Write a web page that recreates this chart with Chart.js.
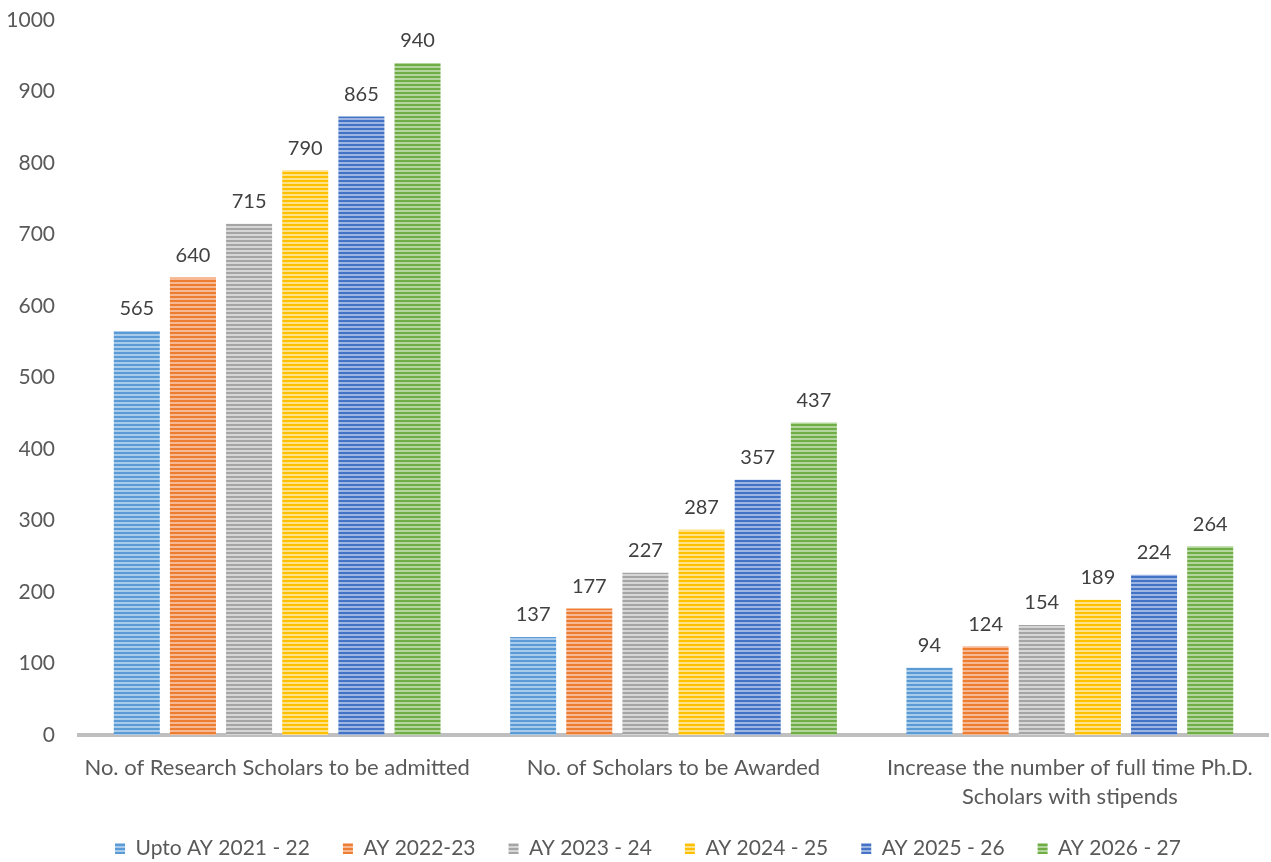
<!DOCTYPE html>
<html>
<head>
<meta charset="utf-8">
<script src="https://cdn.jsdelivr.net/npm/chart.js@4"></script>
<style>
html,body{margin:0;padding:0;background:#fff;}
#wrap{width:1271px;height:862px;position:relative;}
</style>
</head>
<body>
<div id="wrap"><canvas id="c" width="1271" height="862"></canvas></div>
<script>
const categories = [
  'No. of Research Scholars to be admitted',
  'No. of Scholars to be Awarded',
  ['Increase the number of full time Ph.D.', 'Scholars with stipends']
];
const seriesNames = ['Upto AY 2021 - 22', 'AY 2022-23', 'AY 2023 - 24', 'AY 2024 - 25', 'AY 2025 - 26', 'AY 2026 - 27'];
const s2021 = [565, 137, 94];
const s2022 = [640, 177, 124];
const s2023 = [715, 227, 154];
const s2024 = [790, 287, 189];
const s2025 = [865, 357, 224];
const s2026 = [940, 437, 264];
const yTicks = [0, 100, 200, 300, 400, 500, 600, 700, 800, 900, 1000];

const baseColors = ['#5b9bd5', '#ed7d31', '#a5a5a5', '#ffc000', '#4472c4', '#70ad47'];
const lightColors = ['#a9cbeb', '#f6b994', '#d6d6d6', '#ffe18a', '#9db5e3', '#b3d69c'];

function stripe(base, light) {
  const c = document.createElement('canvas');
  c.width = 4; c.height = 4;
  const x = c.getContext('2d');
  x.fillStyle = base; x.fillRect(0, 0, 4, 4);
  x.fillStyle = light; x.fillRect(0, 2, 4, 2);
  return x.createPattern(c, 'repeat');
}

const allSeries = [s2021, s2022, s2023, s2024, s2025, s2026];
const FONT = 'Lato, "Open Sans", sans-serif';

const labelPlugin = {
  id: 'vals',
  afterDatasetsDraw(chart) {
    const ctx = chart.ctx;
    ctx.save();
    ctx.font = '20px ' + FONT;
    ctx.fillStyle = '#404040';
    ctx.textAlign = 'center';
    ctx.textBaseline = 'middle';
    chart.data.datasets.forEach((ds, i) => {
      chart.getDatasetMeta(i).data.forEach((bar, j) => {
        ctx.fillText(String(ds.data[j]), bar.x, bar.y - 22);
      });
    });
    ctx.restore();
  }
};

const legendShift = {
  id: 'legendShift',
  afterLayout(chart) {
    const lg = chart.legend;
    if (!lg) return;
    lg.top -= 6; lg.bottom -= 6;
    lg.left += 11; lg.right += 11;
  }
};

new Chart(document.getElementById('c'), {
  type: 'bar',
  data: {
    labels: categories,
    datasets: allSeries.map((d, i) => ({
      label: seriesNames[i],
      data: d,
      backgroundColor: stripe(baseColors[i], lightColors[i]),
      borderWidth: 0,
      categoryPercentage: 0.85,
      barPercentage: 0.82
    }))
  },
  options: {
    responsive: false,
    animation: false,
    layout: { padding: { top: 20, right: 3, left: 6, bottom: -13 } },
    plugins: {
      legend: {
        position: 'bottom',
        labels: {
          font: { size: 21, family: FONT },
          color: '#595959',
          boxWidth: 10,
          boxHeight: 11,
          padding: 33
        }
      },
      tooltip: { enabled: false }
    },
    scales: {
      x: {
        z: 1,
        grid: { display: false, drawTicks: false },
        border: { color: '#bfbfbf', width: 4 },
        ticks: { font: { size: 22, family: FONT, lineHeight: 1.3 }, color: '#595959', maxRotation: 0, autoSkip: false, padding: 19 },
        afterFit(axis) {
          axis.paddingLeft = 0; axis.paddingRight = 0;
          if (axis._margins) { axis._margins.left = 0; axis._margins.right = 0; }
          axis.height = 76;
        }
      },
      y: {
        min: 0, max: 1000,
        afterBuildTicks(axis) { axis.ticks = yTicks.map(v => ({ value: v })); },
        grid: { display: false, drawTicks: false },
        border: { display: false },
        ticks: { font: { size: 21, family: FONT }, color: '#595959', padding: 24, callback: v => String(v) },
        afterFit(axis) {
          axis.paddingTop = 0; axis.paddingBottom = 0;
          if (axis._margins) { axis._margins.top = 0; axis._margins.bottom = 0; }
          axis.width = 73;
        }
      }
    }
  },
  plugins: [labelPlugin, legendShift]
});
</script>
</body>
</html>
